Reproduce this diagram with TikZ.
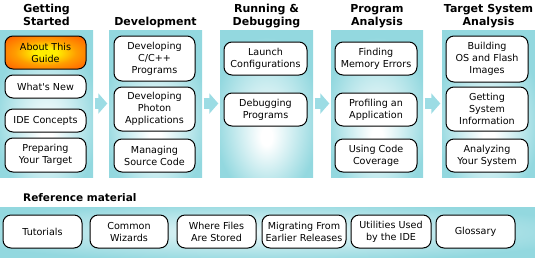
\documentclass[tikz,border=0pt]{standalone}
\usepackage{fontspec}
\setmainfont{DejaVu Sans}
\usepackage{tikz}
\usetikzlibrary{arrows.meta, positioning}
\definecolor{panelcyan}{HTML}{93D8DF}
\definecolor{arrowcyan}{HTML}{9CDCE4}
\definecolor{guideorange}{HTML}{FF6000}
\definecolor{guidemid}{HTML}{FF9C00}
\definecolor{guideyellow}{HTML}{FFEE00}
\pgfdeclareradialshading{panelglow}{\pgfpoint{0bp}{-12bp}}{%
  color(0bp)=(white); color(3bp)=(white);
  color(28bp)=(panelcyan); color(50bp)=(panelcyan)}
\pgfdeclareradialshading{bandglow}{\pgfpoint{0bp}{0bp}}{%
  color(0bp)=(panelcyan!20); color(8bp)=(panelcyan!40);
  color(30bp)=(panelcyan); color(50bp)=(panelcyan)}
\pgfdeclareradialshading{guideglow}{\pgfpoint{0bp}{0bp}}{%
  color(0bp)=(guideyellow); color(7bp)=(guideyellow);
  color(19bp)=(guidemid); color(34bp)=(guideorange);
  color(50bp)=(guideorange)}
\tikzstyle{panel} = [
  rectangle, inner sep=0pt, shading=panelglow
]
\tikzstyle{topic} = [
  rectangle, rounded corners=8pt,
  draw=black, line width=1pt, fill=white,
  align=center, inner sep=0pt,
  font=\fontsize{9.6}{12}\selectfont
]
\tikzstyle{stagehead} = [
  anchor=north, align=center, inner sep=0pt,
  font=\fontsize{11}{13}\selectfont\bfseries
]
\tikzstyle{stagearrow} = [
  line width=11pt, draw=arrowcyan,
  -{Triangle[length=9pt, width=20pt]},
  shorten <=1.5pt, shorten >=1.5pt
]

\begin{document}
\begin{tikzpicture}[x=1pt, y=-1pt]
  \useasboundingbox (0,0) rectangle (535,258);

  % ── Stage panels ──────────────────────────────────────
  \node[panel, minimum width=93pt, minimum height=147pt] (p1) at (46.5,103.5) {};
  \node[panel, minimum width=93pt, minimum height=147pt] (p2) at (155.5,103.5) {};
  \node[panel, minimum width=93pt, minimum height=147pt] (p3) at (266.5,103.5) {};
  \node[panel, minimum width=92pt, minimum height=147pt] (p4) at (377,103.5) {};
  \node[panel, minimum width=93pt, minimum height=147pt] (p5) at (488.5,103.5) {};

  % ── Stage headings ────────────────────────────────────
  \node[stagehead] (h1) at (46.5,4)  {Getting\\Started};
  \node[stagehead] (h2) at (155.5,17) {Development};
  \node[stagehead] (h3) at (266.5,4) {Running \&\\Debugging};
  \node[stagehead] (h4) at (377,4)   {Program\\Analysis};
  \node[stagehead] (h5) at (488.5,4) {Target System\\Analysis};

  % ── Getting Started ───────────────────────────────────
  \node[topic, shading=guideglow, minimum width=81pt, minimum height=33pt]
    (about) at (45.5,52.5) {About This\\Guide};
  \node[topic, minimum width=81pt, minimum height=23pt]
    (whatsnew) at (45.5,86.5) {What\textquotesingle s New};
  \node[topic, minimum width=81pt, minimum height=23pt]
    (concepts) at (45.5,120.5) {IDE Concepts};
  \node[topic, minimum width=81pt, minimum height=34pt]
    (preparing) at (45.5,155) {Preparing\\Your Target};

  % ── Development ───────────────────────────────────────
  \node[topic, minimum width=81pt, minimum height=45pt]
    (devcpp) at (154.5,58.5) {Developing\\C/C++\\Programs};
  \node[topic, minimum width=81pt, minimum height=44pt]
    (devphoton) at (154.5,109) {Developing\\Photon\\Applications};
  \node[topic, minimum width=81pt, minimum height=33pt]
    (managing) at (154.5,155.5) {Managing\\Source Code};

  % ── Running & Debugging ───────────────────────────────
  \node[topic, minimum width=83pt, minimum height=33pt]
    (launch) at (265.5,58.5) {Launch\\Configurations};
  \node[topic, minimum width=83pt, minimum height=33pt]
    (debugging) at (265.5,109.5) {Debugging\\Programs};

  % ── Program Analysis ──────────────────────────────────
  \node[topic, minimum width=82pt, minimum height=33pt]
    (memory) at (376,58.5) {Finding\\Memory Errors};
  \node[topic, minimum width=82pt, minimum height=33pt]
    (profiling) at (376,109.5) {Profiling an\\Application};
  \node[topic, minimum width=82pt, minimum height=33pt]
    (coverage) at (376,155.5) {Using Code\\Coverage};

  % ── Target System Analysis ────────────────────────────
  \node[topic, minimum width=82pt, minimum height=46pt]
    (building) at (487,59) {Building\\OS and Flash\\Images};
  \node[topic, minimum width=82pt, minimum height=44pt]
    (sysinfo) at (487,109) {Getting\\System\\Information};
  \node[topic, minimum width=82pt, minimum height=33pt]
    (analyzing) at (487,155.5) {Analyzing\\Your System};

  % ── Stage arrows ──────────────────────────────────────
  \draw[stagearrow] (p1.east) -- (p2.west);
  \draw[stagearrow] (p2.east) -- (p3.west);
  \draw[stagearrow] (p3.east) -- (p4.west);
  \draw[stagearrow] (p4.east) -- (p5.west);

  % ── Reference material ────────────────────────────────
  \node[anchor=base west, inner sep=0pt, font=\fontsize{10.5}{13}\selectfont\bfseries]
    (refhead) at (23,201) {Reference material};
  \node[panel, shading=bandglow, minimum width=535pt, minimum height=50pt]
    (band) at (267.5,232) {};
  \node[topic, minimum width=79pt, minimum height=33pt]
    (tutorials) at (42.5,231.5) {Tutorials};
  \node[topic, minimum width=78pt, minimum height=33pt]
    (wizards) at (129,231.5) {Common\\Wizards};
  \node[topic, minimum width=79pt, minimum height=33pt]
    (wherefiles) at (216.5,231.5) {Where Files\\Are Stored};
  \node[topic, minimum width=84pt, minimum height=33pt]
    (migrating) at (304,231.5) {Migrating From\\Earlier Releases};
  \node[topic, minimum width=80pt, minimum height=33pt]
    (utilities) at (391,231.5) {Utilities Used\\by the IDE};
  \node[topic, minimum width=79pt, minimum height=33pt]
    (glossary) at (475.5,231.5) {Glossary};

\end{tikzpicture}
\end{document}
